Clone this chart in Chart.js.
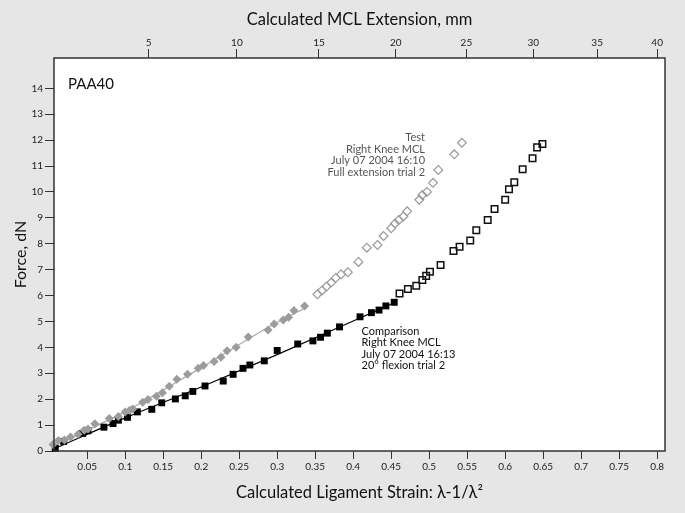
<!DOCTYPE html>
<html lang="en">
<head>
<meta charset="UTF-8">
<title>PAA40 Force vs Ligament Strain</title>
<script src="https://cdn.jsdelivr.net/npm/chart.js"></script>
<style>
  body { margin: 0; background: #e6e6e6; }
  canvas { display: block; }
</style>
</head>
<body>
<canvas id="forceChart" width="685" height="513"></canvas>
<script>
// Test: full extension trial (filled = fitted part, open = beyond fit)
const testFilledStrain = [0.005, 0.012, 0.020, 0.028, 0.038, 0.046, 0.051, 0.060, 0.079, 0.091, 0.100, 0.106, 0.110, 0.123, 0.130, 0.141, 0.149, 0.158, 0.168, 0.182, 0.196, 0.203, 0.217, 0.226, 0.234, 0.246, 0.262, 0.288, 0.296, 0.308, 0.315, 0.322, 0.336];
const testFilledForce  = [0.25, 0.41, 0.42, 0.54, 0.65, 0.80, 0.85, 1.05, 1.25, 1.33, 1.51, 1.57, 1.62, 1.88, 1.99, 2.11, 2.25, 2.50, 2.77, 2.96, 3.19, 3.30, 3.45, 3.62, 3.87, 4.00, 4.40, 4.67, 4.90, 5.06, 5.16, 5.42, 5.60];
const testOpenStrain = [0.353, 0.359, 0.365, 0.371, 0.377, 0.384, 0.393, 0.407, 0.418, 0.432, 0.440, 0.450, 0.455, 0.460, 0.466, 0.471, 0.487, 0.491, 0.497, 0.505, 0.512, 0.533, 0.543];
const testOpenForce  = [6.05, 6.20, 6.35, 6.50, 6.68, 6.82, 6.90, 7.30, 7.85, 7.95, 8.30, 8.60, 8.78, 8.92, 9.05, 9.25, 9.70, 9.88, 10.00, 10.35, 10.85, 11.45, 11.90];
const testFitStrain = [0.006, 0.1, 0.2, 0.3, 0.336];
const testFitForce  = [0.20, 1.52, 3.22, 4.97, 5.50];

// Comparison: 20 deg flexion trial
const compFilledStrain = [0.008, 0.019, 0.044, 0.051, 0.072, 0.084, 0.091, 0.103, 0.116, 0.135, 0.148, 0.166, 0.179, 0.189, 0.205, 0.229, 0.242, 0.255, 0.264, 0.283, 0.300, 0.327, 0.347, 0.357, 0.366, 0.382, 0.409, 0.424, 0.434, 0.443, 0.454];
const compFilledForce  = [0.10, 0.37, 0.68, 0.78, 0.92, 1.06, 1.19, 1.30, 1.51, 1.61, 1.86, 2.01, 2.13, 2.30, 2.51, 2.70, 2.96, 3.19, 3.32, 3.48, 3.88, 4.13, 4.25, 4.39, 4.55, 4.79, 5.18, 5.34, 5.44, 5.60, 5.74];
const compOpenStrain = [0.461, 0.472, 0.483, 0.491, 0.496, 0.501, 0.515, 0.532, 0.540, 0.554, 0.562, 0.577, 0.586, 0.600, 0.605, 0.612, 0.623, 0.636, 0.642, 0.649];
const compOpenForce  = [6.08, 6.25, 6.38, 6.60, 6.76, 6.92, 7.18, 7.72, 7.88, 8.13, 8.52, 8.92, 9.34, 9.70, 10.10, 10.37, 10.88, 11.30, 11.72, 11.85];
const compFitStrain = [0.006, 0.1, 0.2, 0.3, 0.4, 0.454];
const compFitForce  = [0.08, 1.28, 2.47, 3.72, 5.02, 5.72];

// axes
const xTickValues = [0.05, 0.1, 0.15, 0.2, 0.25, 0.3, 0.35, 0.4, 0.45, 0.5, 0.55, 0.6, 0.65, 0.7, 0.75, 0.8];
const yTickValues = [0, 1, 2, 3, 4, 5, 6, 7, 8, 9, 10, 11, 12, 13, 14];
const topTickLabels = [5, 10, 15, 20, 25, 30, 35, 40];          // extension, mm
const topTickStrain = [0.131, 0.247, 0.355, 0.456, 0.549, 0.637, 0.721, 0.800]; // where they sit on strain axis
const xMin = 0.0063, xMax = 0.8103, yMin = 0, yMax = 15.17;

const noteTest = ['Test', 'Right Knee MCL', 'July 07 2004 16:10', 'Full extension trial 2'];
const noteComparison = ['Comparison', 'Right Knee MCL', 'July 07 2004 16:13', '20\u00b0 flexion trial 2'];
const specimen = 'PAA40';

const toPoints = (xs, ys) => xs.map((x, i) => ({x: x, y: ys[i]}));

const tickFont = {family: 'Lato', size: 10};
const titleFont = {family: 'Lato', size: 16.5};

// grey background, white plot area, frame and text notes
const frameAndNotes = {
    id: 'frameAndNotes',
    beforeDraw(chart) {
        const {ctx, chartArea: a} = chart;
        ctx.save();
        ctx.fillStyle = '#e6e6e6';
        ctx.fillRect(0, 0, chart.width, chart.height);
        ctx.fillStyle = '#ffffff';
        ctx.fillRect(a.left, a.top, a.right - a.left, a.bottom - a.top);
        ctx.restore();
    },
    afterDatasetsDraw(chart) {
        const {ctx, chartArea: a, scales} = chart;
        const px = v => scales.x.getPixelForValue(v);
        const py = v => scales.y.getPixelForValue(v);
        ctx.save();
        ctx.strokeStyle = '#333';
        ctx.lineWidth = 1.5;
        ctx.strokeRect(a.left, a.top, a.right - a.left, a.bottom - a.top);

        ctx.textBaseline = 'middle';
        ctx.font = '15px Lato';
        ctx.fillStyle = '#111';
        ctx.textAlign = 'left';
        ctx.fillText(specimen, px(0.0247), py(14.16));

        ctx.font = '11px Lato';
        ctx.fillStyle = '#555';
        ctx.textAlign = 'right';
        noteTest.forEach((t, i) => ctx.fillText(t, px(0.4945), py(12.1) + i * 11.7));

        ctx.fillStyle = '#111';
        ctx.textAlign = 'left';
        noteComparison.forEach((t, i) => ctx.fillText(t, px(0.411), py(4.62) + i * 11.5));
        ctx.restore();
    }
};

const ctx = document.getElementById('forceChart').getContext('2d');

new Chart(ctx, {
    type: 'scatter',
    data: {
        datasets: [
            {
                label: 'Test fit',
                type: 'line',
                data: toPoints(testFitStrain, testFitForce),
                borderColor: '#a8a8a8',
                borderWidth: 1.3,
                pointRadius: 0,
                fill: false,
                cubicInterpolationMode: 'monotone',
                order: 2
            },
            {
                label: 'Comparison fit',
                type: 'line',
                data: toPoints(compFitStrain, compFitForce),
                borderColor: '#000',
                borderWidth: 1.2,
                pointRadius: 0,
                fill: false,
                cubicInterpolationMode: 'monotone',
                order: 2
            },
            {
                label: 'Test',
                data: toPoints(testFilledStrain, testFilledForce),
                pointStyle: 'rectRot',
                pointRadius: 4.5,
                pointBackgroundColor: '#9c9c9c',
                pointBorderWidth: 0,
                clip: false,
                order: 1
            },
            {
                label: 'Test beyond fit',
                data: toPoints(testOpenStrain, testOpenForce),
                pointStyle: 'rectRot',
                pointRadius: 4.4,
                pointBackgroundColor: 'rgba(0,0,0,0)',
                pointBorderColor: '#9a9a9a',
                pointBorderWidth: 1.2,
                clip: false,
                order: 1
            },
            {
                label: 'Comparison',
                data: toPoints(compFilledStrain, compFilledForce),
                pointStyle: 'rect',
                pointRadius: 4.9,
                pointBackgroundColor: '#000',
                pointBorderWidth: 0,
                clip: false,
                order: 1
            },
            {
                label: 'Comparison beyond fit',
                data: toPoints(compOpenStrain, compOpenForce),
                pointStyle: 'rect',
                pointRadius: 4.6,
                pointBackgroundColor: 'rgba(0,0,0,0)',
                pointBorderColor: '#111',
                pointBorderWidth: 1.5,
                clip: false,
                order: 1
            }
        ]
    },
    options: {
        responsive: false,
        animation: false,
        devicePixelRatio: 1,
        layout: { padding: { left: 0, right: 20, top: 0, bottom: 0 } },
        plugins: {
            legend: { display: false },
            tooltip: { enabled: false }
        },
        scales: {
            x: {
                type: 'linear',
                position: 'bottom',
                min: xMin,
                max: xMax,
                afterBuildTicks: s => { s.ticks = xTickValues.map(v => ({value: v})); },
                afterFit: s => { s.height = 62; },
                grid: { drawOnChartArea: false, tickLength: 8, tickColor: '#333', tickWidth: 1 },
                border: { display: false },
                ticks: { font: tickFont, color: '#222', padding: 2, maxRotation: 0, autoSkip: false, callback: v => String(v) },
                title: { display: true, text: 'Calculated Ligament Strain: \u03bb-1/\u03bb\u00b2', font: titleFont, color: '#111', padding: { top: 0, bottom: 10 } }
            },
            x2: {
                type: 'linear',
                position: 'top',
                min: xMin,
                max: xMax,
                afterBuildTicks: s => { s.ticks = topTickStrain.map(v => ({value: v})); },
                afterFit: s => { s.height = 58; },
                grid: { drawOnChartArea: false, tickLength: 9, tickColor: '#333', tickWidth: 1 },
                border: { display: false },
                ticks: { font: tickFont, color: '#222', padding: 0, maxRotation: 0, autoSkip: false, callback: (v, i) => String(topTickLabels[i]) },
                title: { display: true, text: 'Calculated MCL Extension, mm', font: titleFont, color: '#111', padding: { top: 10, bottom: 0 } }
            },
            y: {
                type: 'linear',
                min: yMin,
                max: yMax,
                afterBuildTicks: s => { s.ticks = yTickValues.map(v => ({value: v})); },
                afterFit: s => { s.width = 54; },
                grid: { drawOnChartArea: false, tickLength: 9, tickColor: '#333', tickWidth: 1 },
                border: { display: false },
                ticks: { font: tickFont, color: '#222', padding: 2 },
                title: { display: true, text: 'Force, dN', font: {family: 'Lato', size: 16}, color: '#111', padding: { top: 11, bottom: 0 } }
            }
        }
    },
    plugins: [frameAndNotes]
});
</script>
</body>
</html>
